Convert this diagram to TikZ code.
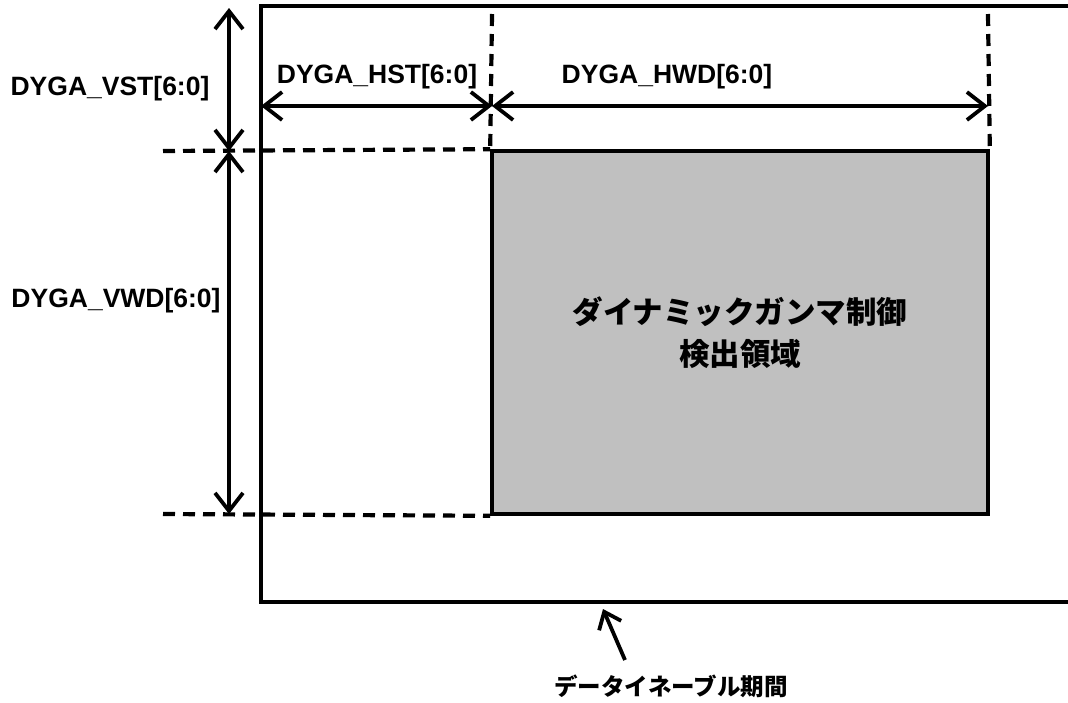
\documentclass[tikz,border=0pt]{standalone}
\usepackage{fontspec}
\setmainfont{Liberation Sans}
\newfontfamily\cjk{Noto Sans CJK JP}
\usetikzlibrary{arrows.meta}
\definecolor{boxgray}{HTML}{C0C0C0}
\begin{document}
\begin{tikzpicture}[x=1pt,y=-1pt,
  solidline/.style={line width=3.6pt},
  guide/.style={line width=4.2pt, dash pattern=on 12pt off 8pt},
  dim/.style={line width=3.8pt, {Straight Barb[length=18pt,width=28pt]}-{Straight Barb[length=18pt,width=28pt]}},
  pointer/.style={line width=3.8pt, -{Straight Barb[length=15pt,width=24pt]}},
  lab/.style={font=\fontsize{26.5}{30}\selectfont\bfseries, inner sep=0pt, anchor=base},
  jlab/.style={font=\cjk\bfseries\fontsize{30.5}{42}\selectfont, align=center, inner sep=0pt}]
\useasboundingbox (0,0) rectangle (1068,702);
% outer data enable region
\coordinate (oTL) at (261,6);
\coordinate (oBL) at (261,602);
\coordinate (oTR) at (1075,6);
\coordinate (oBR) at (1075,602);
\draw[solidline] (oTR) -- (oTL) -- (oBL) -- (oBR);
% detection region
\node[draw, fill=boxgray, line width=3.6pt, inner sep=0pt, minimum width=496pt, minimum height=363pt] (det) at (740,332.5) {};
\node[jlab] (detlab) at (det.center) {ダイナミックガンマ制御\\検出領域};
% guide lines
\coordinate (gv1) at (492,14);
\coordinate (gv2) at (988,14);
\coordinate (gh1) at (163,151);
\coordinate (gh2) at (163,514);
\draw[guide] (gv1) -- (det.north west);
\draw[guide] (gv2) -- (det.north east);
\draw[guide] (gh1) -- (det.north west);
\draw[guide] (gh2) -- (det.south west);
% dimension arrows
\coordinate (v0) at (229,8);
\coordinate (v1) at (229,151);
\coordinate (v2) at (229,514);
\coordinate (h0) at (261,106);
\coordinate (h1) at (492,106);
\coordinate (h2) at (988,106);
\draw[dim] (v0) -- (v1);
\draw[dim] (v1) -- (v2);
\draw[dim] (h0) -- (h1);
\draw[dim] (h1) -- (h2);
% labels
\node[lab] (lvst) at (110,95) {DYGA\_VST[6:0]};
\node[lab] (lvwd) at (116,307) {DYGA\_VWD[6:0]};
\node[lab] (lhst) at (377,83) {DYGA\_HST[6:0]};
\node[lab] (lhwd) at (667,83) {DYGA\_HWD[6:0]};
% bottom pointer
\node[font=\cjk\bfseries\fontsize{23.5}{28}\selectfont, inner sep=0pt] (den) at (671,686) {データイネーブル期間};
\coordinate (ptail) at (625,660);
\coordinate (ptip) at (603,609);
\draw[pointer] (ptail) -- (ptip);
\end{tikzpicture}
\end{document}
